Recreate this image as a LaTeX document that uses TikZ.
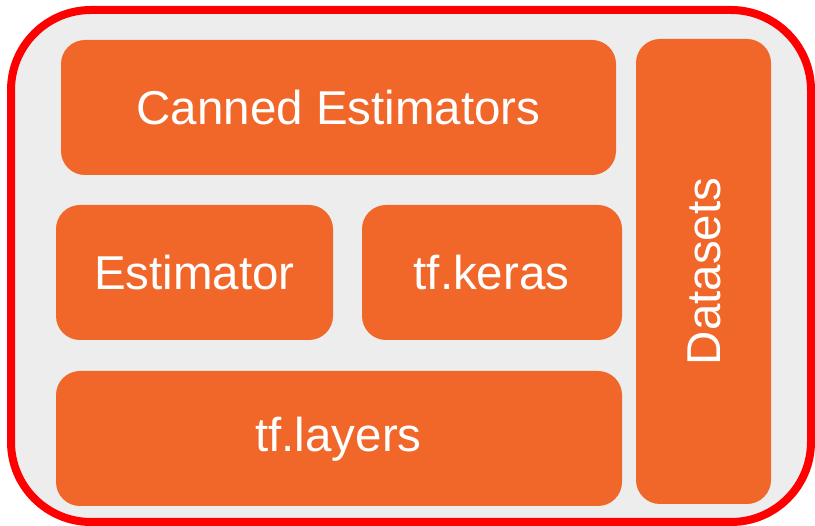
\documentclass[tikz,border=0pt]{standalone}
\usepackage{fontspec}
\setmainfont{Liberation Sans}
\definecolor{tforange}{RGB}{241,103,42}
\definecolor{panelgray}{RGB}{237,237,237}
\definecolor{frame}{RGB}{255,0,0}
\begin{document}
\begin{tikzpicture}[x=1pt,y=-1pt,
  block/.style={fill=tforange, rounded corners=24pt, draw=none},
  lbl/.style={text=white, font=\fontsize{47.5}{52}\selectfont, inner sep=0pt}]
\useasboundingbox (0,0) rectangle (815,526);
% outer frame
\draw[frame, line width=8pt, fill=panelgray, rounded corners=80pt] (11,10) rectangle (811,522);
% blocks
\path[block] (61,40) rectangle (616,175);
\node[lbl] (canned) at (338.5,108) {Canned Estimators};
\path[block] (56,205) rectangle (333,340);
\node[lbl] (est) at (194.5,273) {Estimator};
\path[block] (362,205) rectangle (622,340);
\node[lbl] (keras) at (491.5,273) {tf.keras};
\path[block] (56,371) rectangle (622,506);
\node[lbl] (layers) at (338.5,439) {tf.layers};
\path[block] (636,39) rectangle (771,504);
\node[lbl, rotate=90] (data) at (704,271.5) {Datasets};
\end{tikzpicture}
\end{document}
